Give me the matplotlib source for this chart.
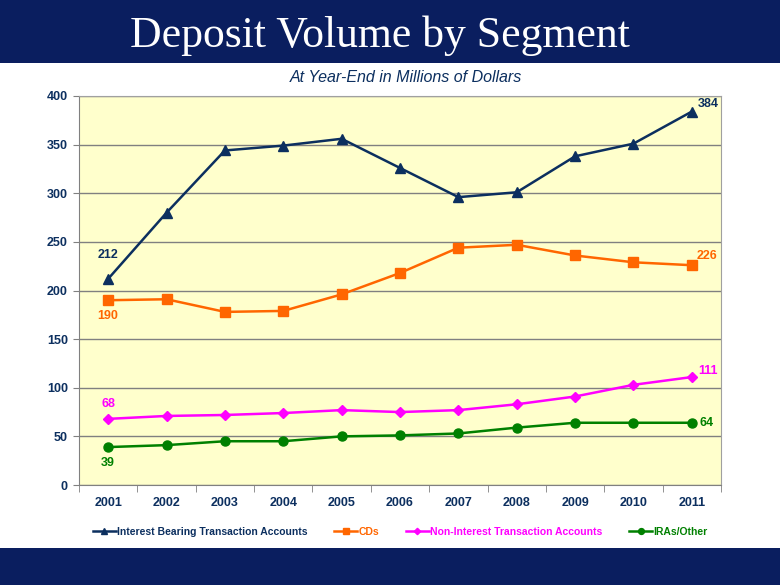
import matplotlib.pyplot as plt
from matplotlib.patches import Rectangle

# Datos
years = ["2001", "2002", "2003", "2004", "2005", "2006", "2007", "2008", "2009", "2010", "2011"]
interest_bearing = [212, 280, 344, 349, 356, 326, 296, 301, 338, 351, 384]
cds = [190, 191, 178, 179, 196, 218, 244, 247, 236, 229, 226]
non_interest = [68, 71, 72, 74, 77, 75, 77, 83, 91, 103, 111]
iras_other = [39, 41, 45, 45, 50, 51, 53, 59, 64, 64, 64]

navy = "#0C2F5F"
orange = "#FF6600"
magenta = "#FF00FF"
green = "#008000"
banner = "#0A1E5F"

plt.rcParams["font.family"] = ["Liberation Sans", "DejaVu Sans"]

fig = plt.figure(figsize=(7.8, 5.85), dpi=100)

# Bandas superior e inferior
fig.patches.append(Rectangle((0, 1 - 63 / 585), 1, 63 / 585, transform=fig.transFigure,
                             facecolor=banner, edgecolor="none", zorder=0))
fig.patches.append(Rectangle((0, 0), 1, 37 / 585, transform=fig.transFigure,
                             facecolor=banner, edgecolor="none", zorder=0))
fig.text(0.487, 1 - 47 / 585, "Deposit Volume by Segment", color="white",
         family=["Liberation Serif", "DejaVu Serif"], fontsize=31.5, ha="center", va="baseline")
fig.text(0.52, 1 - 77 / 585, "At Year-End in Millions of Dollars", color=navy,
         fontsize=11.5, style="italic", ha="center", va="center")

ax = fig.add_axes([79 / 780, 1 - 485 / 585, 642 / 780, 389 / 585])
ax.set_facecolor("#FFFFCC")
x = list(range(len(years)))

series = [
    (interest_bearing, navy, "^", 7.5, "Interest Bearing Transaction Accounts"),
    (cds, orange, "s", 6.5, "CDs"),
    (non_interest, magenta, "D", 5, "Non-Interest Transaction Accounts"),
    (iras_other, green, "o", 6.5, "IRAs/Other"),
]
for vals, col, mk, ms, lab in series:
    ax.plot(x, vals, color=col, marker=mk, markersize=ms, linewidth=1.8, label=lab, zorder=3)

ax.set_xlim(-0.5, 10.5)
ax.set_ylim(0, 400)
ax.set_yticks(range(0, 401, 50))
ax.set_xticks(x)
ax.set_xticklabels(years)
ax.set_xticks([i + 0.5 for i in range(-1, 11)], minor=True)
ax.tick_params(axis="x", which="major", length=0, pad=9)
ax.tick_params(axis="x", which="minor", length=5, color="#808080")
ax.tick_params(axis="y", length=4, color="#808080", pad=4)
for lbl in ax.get_xticklabels() + ax.get_yticklabels():
    lbl.set_color(navy)
    lbl.set_fontweight("bold")
    lbl.set_fontsize(9)
ax.yaxis.grid(True, color="#808080", linewidth=1)
ax.set_axisbelow(True)
for sp in ax.spines.values():
    sp.set_color("#A0A0A0")
ax.spines["bottom"].set_color("#808080")
ax.spines["left"].set_color("#808080")

# Etiquetas de datos
lab_kw = dict(fontsize=9, fontweight="bold", ha="center", va="center")
ax.text(0, interest_bearing[0] + 24, str(interest_bearing[0]), color=navy, **lab_kw)
ax.text(10.29, interest_bearing[-1] + 8, str(interest_bearing[-1]), color=navy, **lab_kw)
ax.text(0, cds[0] - 16.5, str(cds[0]), color=orange, **lab_kw)
ax.text(10.26, cds[-1] + 9, str(cds[-1]), color=orange, **lab_kw)
ax.text(0, non_interest[0] + 15.5, str(non_interest[0]), color=magenta, **lab_kw)
ax.text(10.27, non_interest[-1] + 6, str(non_interest[-1]), color=magenta, **lab_kw)
ax.text(0, iras_other[0] - 16, str(iras_other[0]), color=green, **lab_kw)
ax.text(10.26, iras_other[-1], str(iras_other[-1]), color=green, **lab_kw)

leg = ax.legend(loc="center", bbox_to_anchor=(0.5, -0.12), ncol=4, frameon=False,
                prop={"size": 7.5, "weight": "bold"}, handlelength=2.2,
                handletextpad=0.1, columnspacing=2.6, markerscale=0.65)
for txt, (_, col, _, _, _) in zip(leg.get_texts(), series):
    txt.set_color(col)

fig.savefig("out.png", dpi=100)
